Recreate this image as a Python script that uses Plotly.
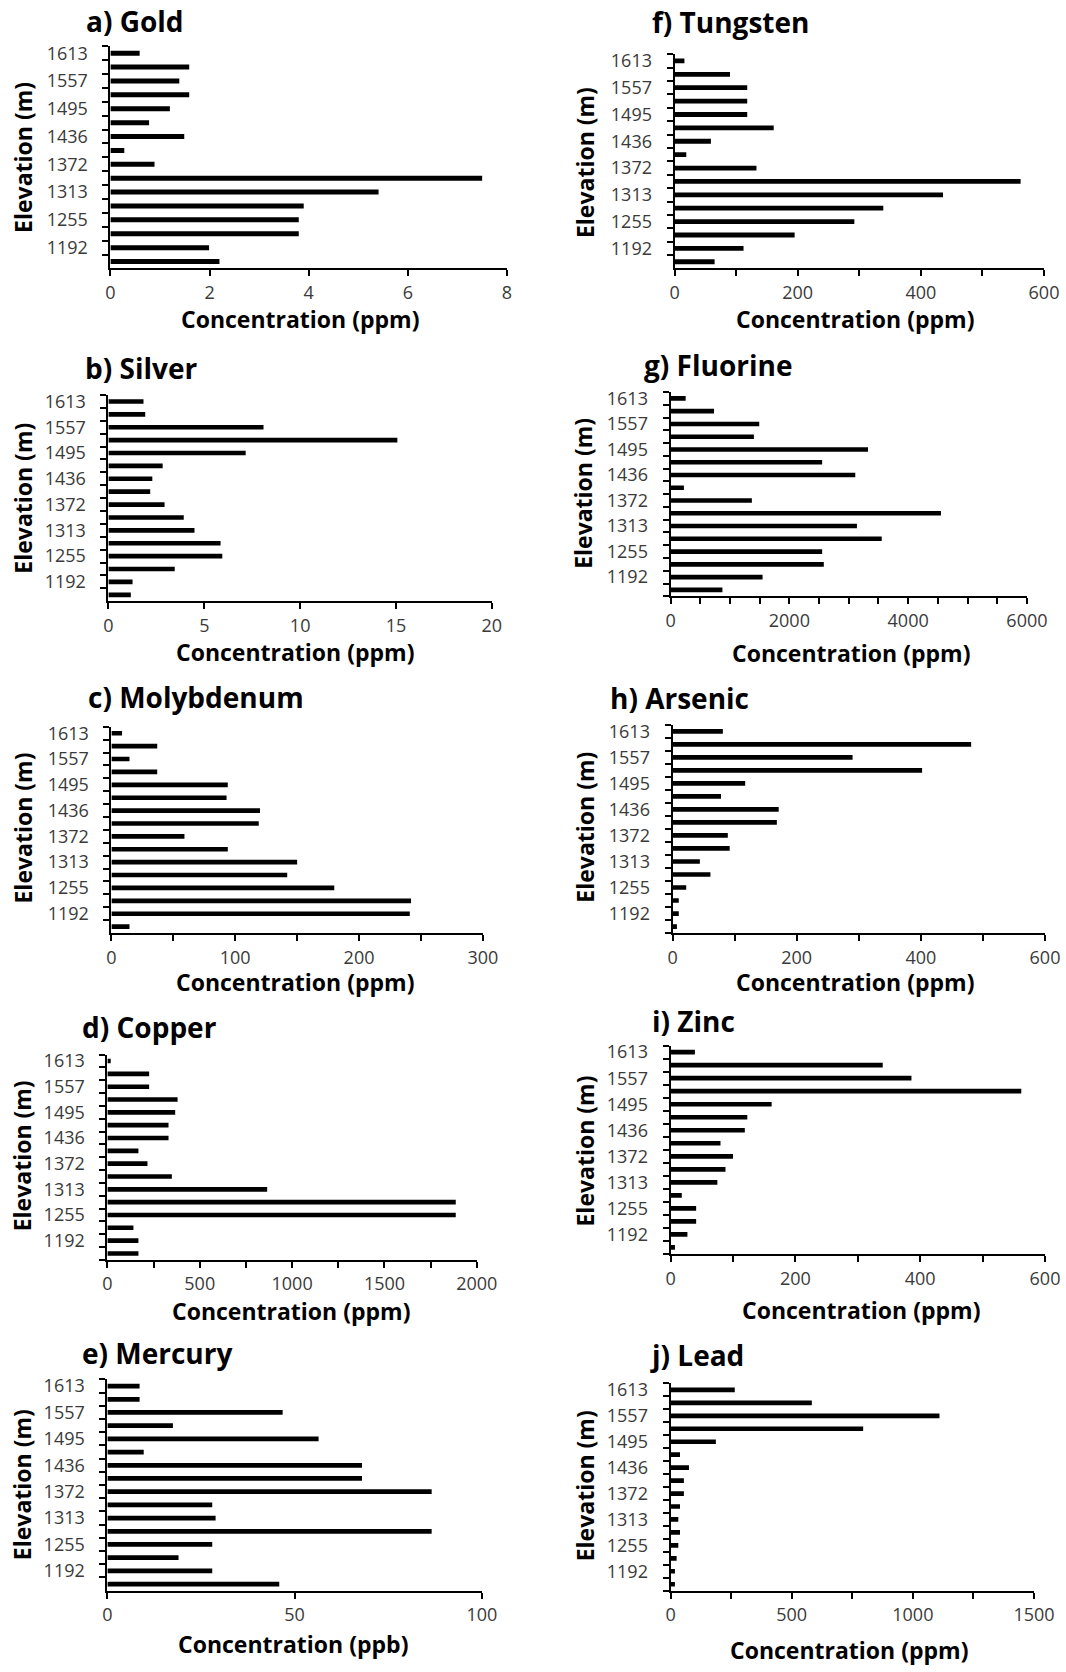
import plotly.graph_objects as go

# ---------------- data ----------------
# elevation categories (top to bottom); only every other one is labelled in the source
elevations = ["1613", "1585", "1557", "1526", "1495", "1466", "1436", "1404",
              "1372", "1343", "1313", "1284", "1255", "1224", "1192", "1160"]
shown_labels = ["1613", "", "1557", "", "1495", "", "1436", "",
                "1372", "", "1313", "", "1255", "", "1192", ""]

gold = [0.59, 1.59, 1.39, 1.59, 1.20, 0.78, 1.49, 0.28, 0.89, 7.5, 5.41, 3.9, 3.8, 3.8, 1.99, 2.2]
silver = [1.83, 1.92, 8.09, 15.07, 7.16, 2.83, 2.29, 2.18, 2.93, 3.93, 4.49, 5.85, 5.94, 3.46, 1.26, 1.17]
molybdenum = [8.6, 37, 14.6, 37, 94, 93, 120, 119, 59, 94, 150, 142, 180, 242, 241, 14.6]
copper = [18, 226, 226, 380, 367, 331, 331, 168, 217, 349, 865, 1886, 1886, 141, 168, 168]
mercury = [8.6, 8.6, 46.8, 17.5, 56.4, 9.7, 68, 68, 86.6, 28, 28.9, 86.6, 28, 19, 28, 45.9]
tungsten = [16, 90, 118, 118, 118, 161, 59, 19, 133, 562, 436, 339, 292, 195, 112, 65]
fluorine = [254, 732, 1493, 1403, 3324, 2552, 3110, 225, 1369, 4552, 3138, 3555, 2552, 2580, 1549, 873]
arsenic = [81, 481, 290, 402, 117, 78, 171, 168, 89, 92, 44, 61, 22, 10, 10, 7]
zinc = [39, 340, 386, 562, 162, 123, 119, 80, 100, 88, 75, 18, 41, 41, 27, 7]
lead = [265, 583, 1110, 795, 187, 39, 76, 55, 55, 39, 32, 39, 32, 25, 18, 18]

titles = ["a) Gold", "b) Silver", "c) Molybdenum", "d) Copper", "e) Mercury",
          "f) Tungsten", "g) Fluorine", "h) Arsenic", "i) Zinc", "j) Lead"]
series = [gold, silver, molybdenum, copper, mercury,
          tungsten, fluorine, arsenic, zinc, lead]
x_max = [8, 20, 300, 2000, 100, 600, 6000, 600, 600, 1500]
x_major = [2, 5, 100, 500, 50, 200, 2000, 200, 200, 500]
x_minor = [2, 5, 50, 250, 50, 100, 500, 100, 100, 250]
units = ["ppm", "ppm", "ppm", "ppm", "ppb", "ppm", "ppm", "ppm", "ppm", "ppm"]

# ---------------- layout (screen pixels) ----------------
W, H = 1066, 1672
# observed rendering: the paper is drawn slightly offset / narrower than the window
OX, OY, PW, PH = 5.0, 4.6, 1036.0, 1672.0

# plot area: x0, x1, ytop, ybottom
areas = [
    (110, 505, 45, 268),
    (108, 490, 395, 602),
    (111, 481, 728, 935),
    (107, 475, 1057, 1263),
    (107, 480, 1383, 1595),
    (672, 1040, 53, 268),
    (668, 1023, 392, 597),
    (670, 1041, 726, 935),
    (668, 1041, 1048, 1257),
    (668, 1030, 1387, 1595),
]
title_pos = [(84, 20), (83, 368), (86, 698), (80, 1029), (80, 1356),
             (648, 21), (640, 365), (606, 699), (648, 1023), (646, 1358)]
xtitle_pos = [(299, 319), (294, 653), (294, 984), (290, 1314), (292, 1649),
              (852, 319), (848, 654), (852, 984), (858, 1313), (846, 1655)]
ytitle_pos = [(23, 157), (23, 499), (23, 830), (22, 1159), (22, 1489),
              (583, 162), (580, 494), (583, 829), (583, 1154), (583, 1490)]

FONT = "Open Sans"
TICKCOL = "#3a3a3a"

fig = go.Figure()
annotations = []

def clamp(v):
    return max(0.0, min(1.0, v))

def px(x):
    return clamp((x - OX) / PW)

def py(y):
    return clamp(1 - (y - OY) / PH)

for i in range(10):
    n = i + 1
    xa = "x" if n == 1 else f"x{n}"
    ya = "y" if n == 1 else f"y{n}"
    fig.add_trace(go.Bar(
        x=series[i], y=elevations, orientation="h",
        marker=dict(color="black", line=dict(width=0)),
        xaxis=xa, yaxis=ya, showlegend=False,
    ))
    x0, x1, yt, yb = areas[i]
    xkey = "xaxis" if n == 1 else f"xaxis{n}"
    ykey = "yaxis" if n == 1 else f"yaxis{n}"
    fig.layout[xkey] = dict(
        domain=[px(x0), px(x1)], anchor=ya, range=[0, x_max[i]],
        showline=True, linecolor="black", linewidth=2,
        ticks="outside", ticklen=6, tickwidth=2, tickcolor="black",
        tick0=0, dtick=x_major[i], showgrid=False, zeroline=False,
        tickfont=dict(family=FONT, size=18, color=TICKCOL),
        minor=dict(ticks="outside", ticklen=6, tickwidth=2, tickcolor="black",
                   dtick=x_minor[i], tick0=0, showgrid=False),
        ticklabelstandoff=1, fixedrange=True,
    )
    fig.layout[ykey] = dict(
        domain=[py(yb), py(yt)], anchor=xa, type="category",
        range=[15.5, -0.5],
        categoryorder="array", categoryarray=elevations,
        tickmode="array", tickvals=elevations, ticktext=shown_labels,
        tickson="boundaries",
        showline=True, linecolor="black", linewidth=2,
        ticks="outside", ticklen=6, tickwidth=2, tickcolor="black",
        showgrid=False, zeroline=False,
        tickfont=dict(family=FONT, size=18, color=TICKCOL),
        ticklabelstandoff=17, fixedrange=True,
    )
    tx, ty = title_pos[i]
    annotations.append(dict(
        text=f"<b>{titles[i]}</b>", x=px(tx), y=py(ty), xref="paper", yref="paper",
        xanchor="left", yanchor="middle", showarrow=False,
        font=dict(family=FONT, size=28, color="black")))
    cx, cy = xtitle_pos[i]
    annotations.append(dict(
        text=f"<b>Concentration ({units[i]})</b>", x=px(cx), y=py(cy),
        xref="paper", yref="paper", xanchor="center", yanchor="middle",
        showarrow=False, font=dict(family=FONT, size=23, color="black")))
    ex, ey = ytitle_pos[i]
    annotations.append(dict(
        text="<b>Elevation (m)</b>", x=px(ex), y=py(ey),
        xref="paper", yref="paper", xanchor="center", yanchor="middle",
        textangle=-90, showarrow=False,
        font=dict(family=FONT, size=23, color="black")))

fig.update_layout(
    width=W, height=H, margin=dict(l=0, r=0, t=0, b=0),
    paper_bgcolor="white", plot_bgcolor="white",
    bargap=0.64, annotations=annotations,
)

fig.write_html("out.html", config={"displayModeBar": False})
